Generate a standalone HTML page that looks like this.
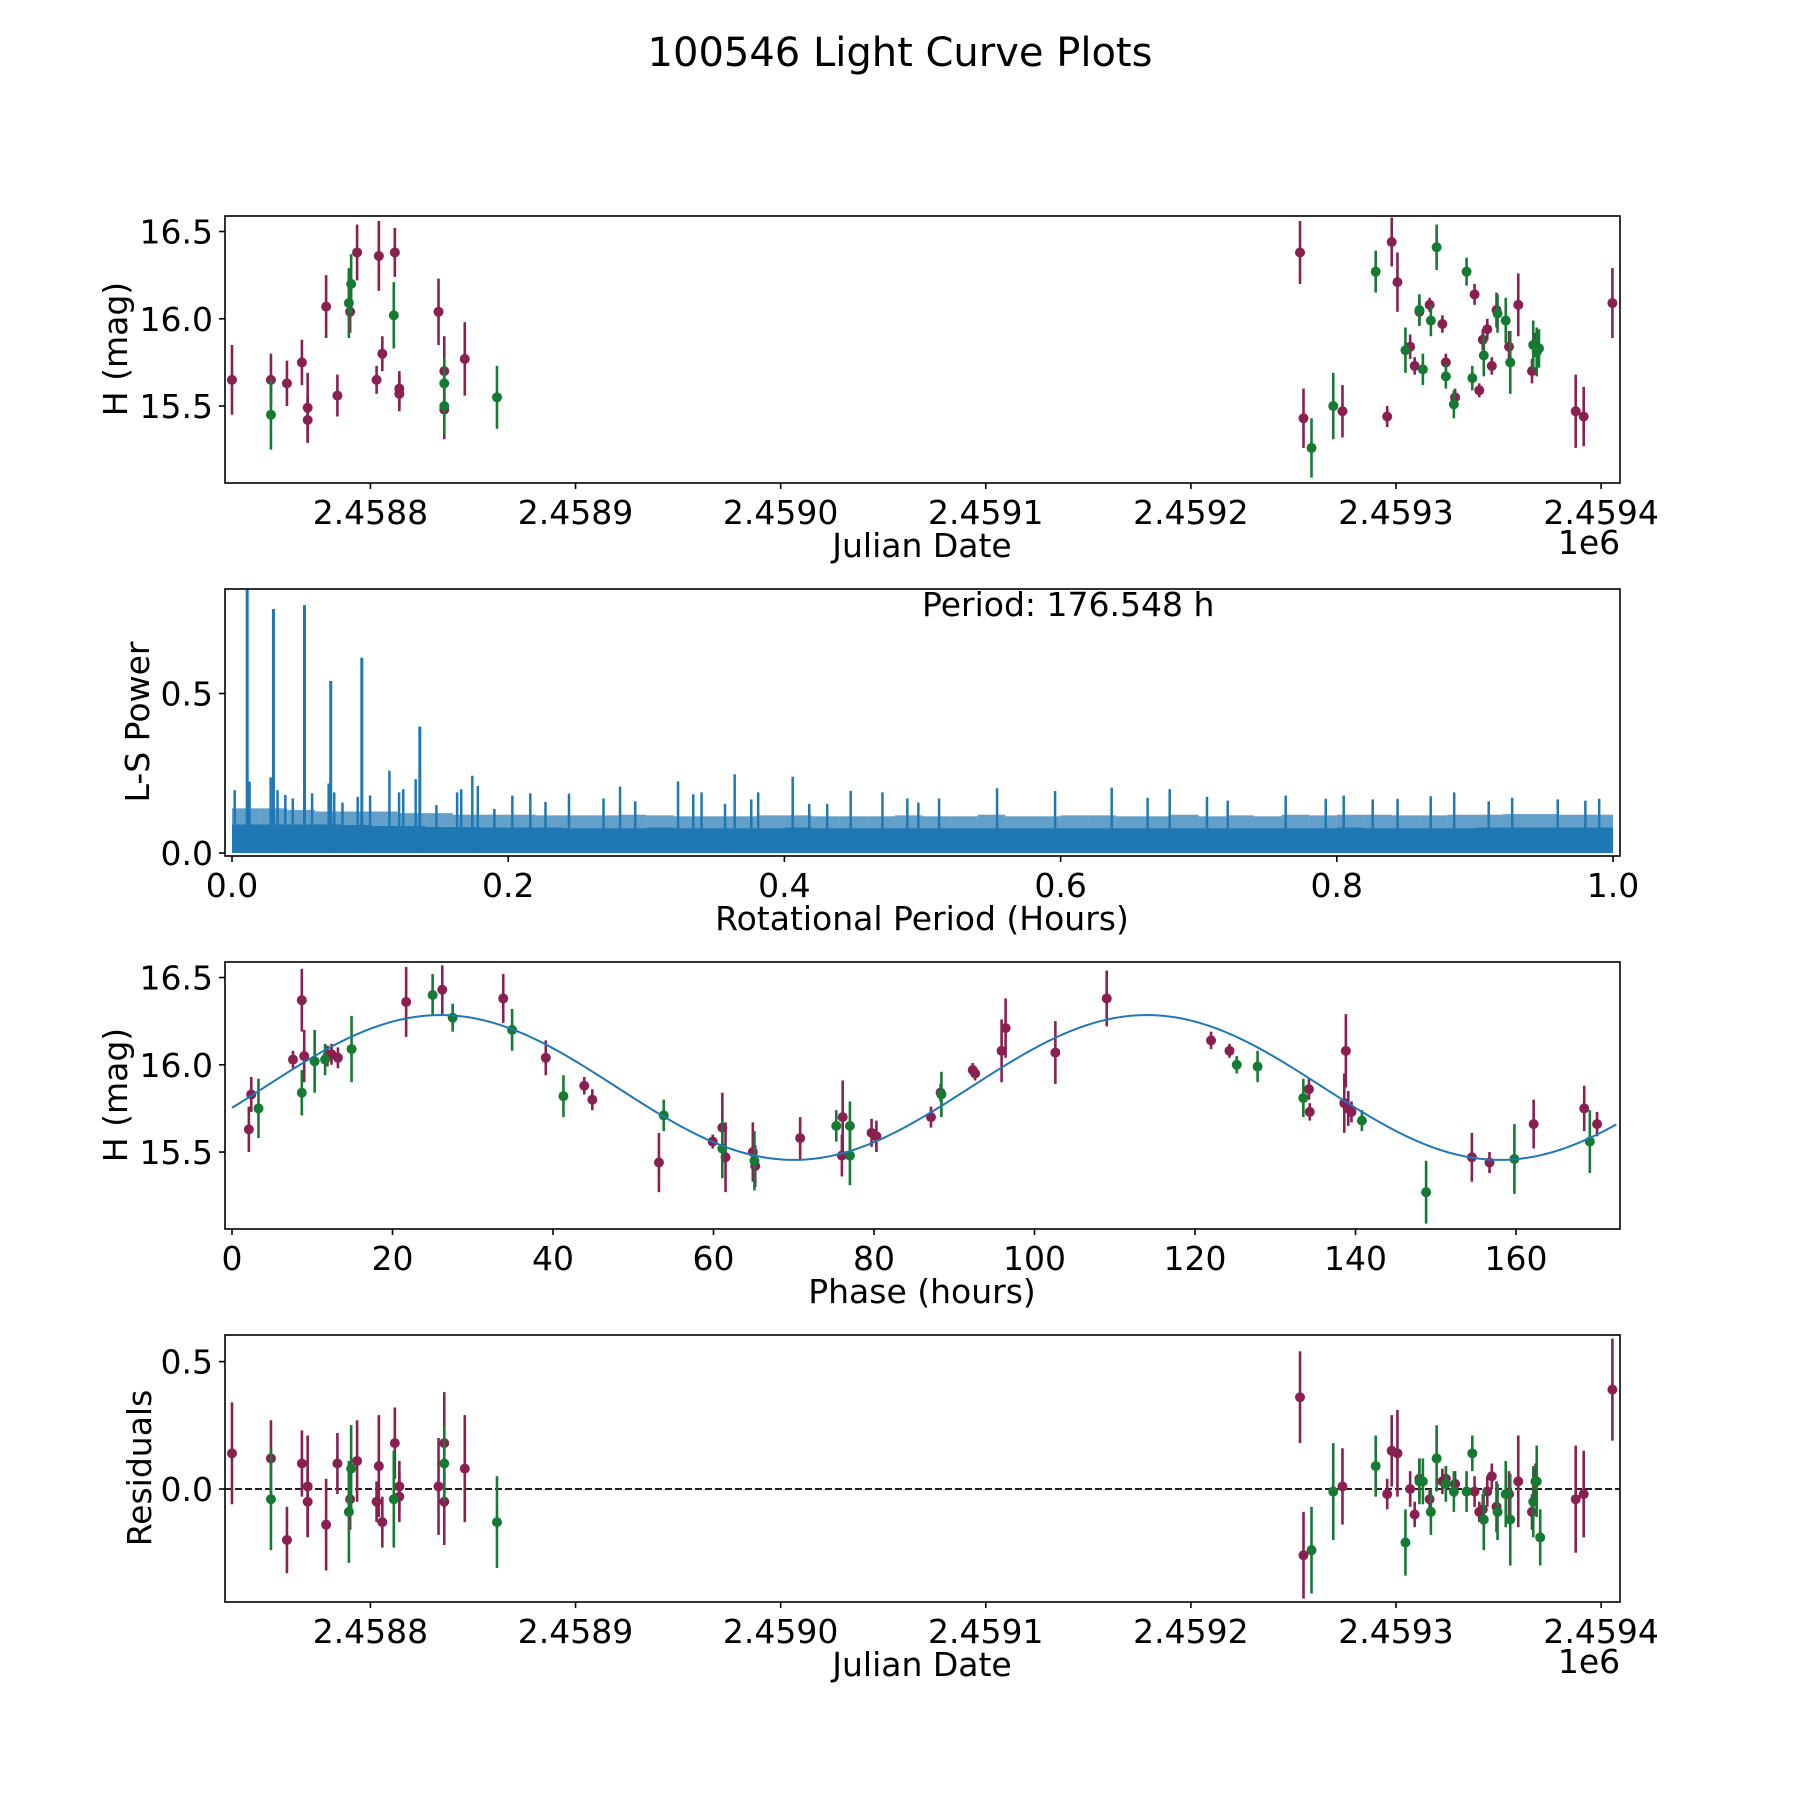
<!DOCTYPE html>
<html><head><meta charset="utf-8"><style>
body{margin:0;background:#fff}
svg{display:block}
text{font-family:"DejaVu Sans","Liberation Sans",sans-serif;fill:#000}
</style></head><body>
<svg id="fig" width="1800" height="1800" viewBox="0 0 1800 1800" xmlns="http://www.w3.org/2000/svg">
<rect width="1800" height="1800" fill="#fff"/>
<text x="900" y="66" font-size="40" text-anchor="middle">100546 Light Curve Plots</text>
</svg>
<script>
// ---- Panel 1 data: [day offset from JD 2458800, mag, err]
const lcPurple = [[-67.5,15.65,0.2],[-48.5,15.65,0.15],[-40.7,15.63,0.13],[-33.4,15.75,0.13],[-30.6,15.49,0.2],[-30.6,15.42,0.13],[-21.6,16.07,0.18],[-16.1,15.56,0.12],[-9.9,16.04,0.12],[-6.5,16.38,0.16],[3.0,15.65,0.08],[4.1,16.36,0.2],[5.8,15.8,0.1],[11.9,16.38,0.14],[14.1,15.6,0.1],[14.1,15.57,0.1],[33.2,16.04,0.19],[36.0,15.7,0.2],[36.0,15.48,0.17],[46.0,15.77,0.21],
[453.2,16.38,0.18],[454.9,15.43,0.17],[473.9,15.47,0.15],[495.7,15.44,0.06],[497.9,16.44,0.14],[500.7,16.21,0.17],[506.9,15.84,0.07],[509.1,15.73,0.05],[511.4,16.04,0.08],[516.4,16.08,0.04],[522.6,15.97,0.05],[524.3,15.75,0.05],[528.8,15.55,0.05],[538.3,16.14,0.06],[540.6,15.59,0.04],[542.3,15.88,0.06],[544.5,15.94,0.06],[546.7,15.73,0.05],[549.0,16.05,0.1],[555.1,15.84,0.09],[559.6,16.08,0.18],[566.3,15.7,0.07],[568.0,15.85,0.07],[587.6,15.47,0.21],[591.5,15.44,0.17],[605.5,16.09,0.2]];
const lcGreen = [[-48.5,15.45,0.2],[-10.5,16.09,0.2],[-9.4,16.2,0.17],[11.4,16.02,0.19],[36.0,15.63,0.15],[36.0,15.5,0.17],[61.7,15.55,0.18],[458.8,15.26,0.17],[469.4,15.5,0.19],[490.1,16.27,0.12],[504.6,15.82,0.13],[511.4,16.05,0.09],[513.1,15.71,0.09],[517.0,15.99,0.09],[519.8,16.41,0.13],[524.3,15.67,0.07],[528.2,15.51,0.08],[534.4,16.27,0.08],[537.2,15.66,0.07],[542.8,15.79,0.12],[549.5,16.03,0.11],[553.5,15.99,0.13],[555.7,15.75,0.18],[566.9,15.85,0.14],[568.6,15.81,0.14],[569.7,15.83,0.11]];
const jdTicks = [0,100,200,300,400,500,600];
const jdTickLabels = ["2.4588","2.4589","2.4590","2.4591","2.4592","2.4593","2.4594"];
const magTicks = [15.5,16.0,16.5];
const magTickLabels = ["15.5","16.0","16.5"];
// ---- Panel 2 (Lomb-Scargle)
const lsPeakPeriods = [0.011,0.030,0.0525,0.0715,0.094,0.136];
const lsPeakPowers = [0.9,0.765,0.777,0.539,0.612,0.396];
const lsSpikePeriods = [0.002,0.0127,0.028,0.033,0.0386,0.044,0.058,0.070,0.074,0.080,0.091,0.100,0.114,0.121,0.124,0.133,0.148,0.163,0.166,0.174,0.178,0.190,0.203,0.216,0.227,0.244,0.269,0.281,0.292,0.323,0.334,0.340,0.357,0.364,0.376,0.381,0.406,0.418,0.431,0.448,0.471,0.489,0.497,0.512,0.554,0.596,0.637,0.663,0.679,0.706,0.721,0.763,0.792,0.805,0.826,0.844,0.868,0.885,0.910,0.927,0.960,0.980,0.990];
const lsSpikePowers = [0.197,0.224,0.237,0.197,0.182,0.171,0.187,0.218,0.19,0.158,0.176,0.18,0.258,0.19,0.2,0.231,0.15,0.19,0.2,0.242,0.21,0.138,0.18,0.187,0.16,0.186,0.171,0.208,0.162,0.224,0.184,0.19,0.154,0.247,0.168,0.19,0.239,0.154,0.154,0.195,0.19,0.171,0.158,0.171,0.203,0.194,0.205,0.173,0.2,0.176,0.164,0.18,0.17,0.18,0.168,0.17,0.178,0.19,0.162,0.173,0.168,0.164,0.17];
const lsBinWidth = 0.02;
const lsDense = [0.09,0.09,0.09,0.09,0.088,0.085,0.085,0.082,0.082,0.08,0.08,0.08,0.078,0.078,0.078,0.08,0.078,0.078,0.078,0.078,0.08,0.078,0.078,0.078,0.078,0.078,0.078,0.078,0.078,0.078,0.078,0.078,0.078,0.078,0.078,0.078,0.078,0.078,0.078,0.078,0.08,0.078,0.078,0.078,0.078,0.08,0.08,0.08,0.08,0.08];
const lsMid = [0.14,0.14,0.135,0.13,0.13,0.13,0.125,0.125,0.12,0.12,0.12,0.118,0.118,0.118,0.12,0.118,0.115,0.115,0.115,0.118,0.118,0.115,0.115,0.115,0.118,0.115,0.115,0.12,0.115,0.115,0.118,0.118,0.115,0.115,0.12,0.115,0.118,0.115,0.12,0.118,0.12,0.12,0.118,0.118,0.12,0.12,0.122,0.122,0.12,0.12];
const lsXTicks = [0,0.2,0.4,0.6,0.8,1.0];
const lsXTickLabels = ["0.0","0.2","0.4","0.6","0.8","1.0"];
const lsYTicks = [0,0.5];
const lsYTickLabels = ["0.0","0.5"];
// ---- Panel 3 (phased): [hours, mag, err]
const phPurple = [[2.1,15.63,0.13],[2.4,15.83,0.1],[7.6,16.03,0.05],[8.7,16.37,0.18],[9.0,16.05,0.15],[11.9,16.05,0.06],[12.4,16.06,0.06],[13.2,16.04,0.06],[21.7,16.36,0.2],[26.2,16.43,0.14],[33.8,16.38,0.14],[39.1,16.04,0.1],[43.9,15.88,0.05],[44.9,15.8,0.06],[53.2,15.44,0.17],[59.9,15.56,0.04],[61.1,15.64,0.2],[61.5,15.47,0.2],[64.9,15.5,0.17],[65.2,15.42,0.12],[70.8,15.58,0.12],[76.0,15.48,0.12],[76.1,15.7,0.21],[79.7,15.61,0.08],[80.3,15.59,0.09],[87.1,15.7,0.06],[88.3,15.84,0.05],[92.3,15.97,0.04],[92.6,15.95,0.04],[95.9,16.08,0.18],[96.4,16.21,0.17],[102.6,16.07,0.18],[109.0,16.38,0.16],[122.0,16.14,0.05],[124.3,16.08,0.04],[134.2,15.86,0.06],[134.3,15.73,0.05],[138.6,15.78,0.17],[138.8,16.08,0.21],[139.1,15.75,0.1],[139.5,15.73,0.06],[154.5,15.47,0.14],[156.7,15.44,0.06],[162.2,15.66,0.14],[168.5,15.75,0.13],[170.1,15.66,0.07]];
const phGreen = [[3.3,15.75,0.17],[8.7,15.84,0.13],[10.3,16.02,0.18],[11.6,16.03,0.09],[14.9,16.09,0.19],[25.0,16.4,0.12],[27.5,16.27,0.08],[34.9,16.2,0.12],[41.3,15.82,0.12],[53.8,15.71,0.09],[61.1,15.52,0.17],[65.1,15.45,0.17],[75.3,15.65,0.09],[77.0,15.65,0.14],[77.0,15.48,0.17],[88.4,15.83,0.13],[125.2,16.0,0.05],[127.8,15.99,0.09],[133.5,15.81,0.11],[140.8,15.68,0.06],[148.8,15.27,0.18],[159.8,15.46,0.2],[169.2,15.56,0.18]];
const modelMean = 15.87, modelAmp = 0.415, modelPeriod = 88, modelShift = 4;
const modelEnd = 172.6;
const phXTicks = [0,20,40,60,80,100,120,140,160];
const phXTickLabels = ["0","20","40","60","80","100","120","140","160"];
// ---- Panel 4 (residuals): [day, residual, err]
const resPurple = [[-67.5,0.14,0.2],[-48.5,0.12,0.15],[-40.7,-0.2,0.13],[-33.4,0.1,0.13],[-30.6,0.01,0.2],[-30.6,-0.05,0.13],[-21.6,-0.14,0.18],[-16.1,0.1,0.12],[-9.9,-0.04,0.12],[-6.5,0.11,0.16],[3.0,-0.05,0.08],[4.1,0.09,0.2],[5.8,-0.13,0.1],[11.9,0.18,0.14],[14.1,0.01,0.1],[14.1,-0.03,0.1],[33.2,0.01,0.19],[36.0,0.18,0.2],[36.0,-0.05,0.17],[46.0,0.08,0.21],
[453.2,0.36,0.18],[454.9,-0.26,0.17],[473.9,0.01,0.15],[495.7,-0.02,0.06],[497.9,0.15,0.14],[500.7,0.14,0.17],[506.9,0.0,0.07],[509.1,-0.1,0.05],[511.4,0.04,0.08],[516.4,-0.04,0.04],[522.6,0.03,0.05],[524.3,0.04,0.05],[528.8,0.02,0.05],[538.3,-0.01,0.06],[540.6,-0.09,0.04],[542.3,-0.08,0.06],[544.5,-0.01,0.06],[546.7,0.05,0.05],[549.0,-0.07,0.1],[555.1,-0.02,0.09],[559.6,0.03,0.18],[566.3,-0.09,0.07],[568.0,0.03,0.07],[587.6,-0.04,0.21],[591.5,-0.02,0.17],[605.5,0.39,0.2]];
const resGreen = [[-48.5,-0.04,0.2],[-10.5,-0.09,0.2],[-9.4,0.08,0.17],[11.4,-0.04,0.19],[36.0,0.1,0.15],[61.7,-0.13,0.18],[458.8,-0.24,0.17],[469.4,-0.01,0.19],[490.1,0.09,0.12],[504.6,-0.21,0.13],[511.4,0.03,0.09],[513.1,0.03,0.09],[517.0,-0.09,0.09],[519.8,0.12,0.13],[524.3,0.02,0.07],[528.2,-0.01,0.08],[534.4,-0.01,0.08],[537.2,0.14,0.07],[542.8,-0.12,0.12],[549.5,-0.09,0.11],[553.5,-0.02,0.13],[555.7,-0.12,0.18],[566.9,-0.05,0.14],[568.6,0.03,0.14],[570.3,-0.19,0.11]];
const resTicks = [0,0.5];
const resTickLabels = ["0.0","0.5"];

const NS = "http://www.w3.org/2000/svg";
const svg = document.getElementById('fig');
const PURPLE = "#8a1f52", GREEN = "#157a32", BLUE = "#1f77b4";
const L = 225, R = 1620, PH = 267, FS = 33;
const tops = [216, 589, 962, 1335];

function mk(tag, attrs, parent){
  const e = document.createElementNS(NS, tag);
  for (const k in attrs) e.setAttribute(k, attrs[k]);
  (parent || svg).appendChild(e);
  return e;
}
function lin(d0, d1, p0, p1){ return v => p0 + (v - d0) * (p1 - p0) / (d1 - d0); }

function axesFrame(i, name){
  const g = mk('g', {});
  
  
  const cp = mk('clipPath', {id: 'clip' + i}, g);
  mk('rect', {x: L, y: tops[i], width: R - L, height: PH}, cp);
  const plot = mk('g', {'clip-path': 'url(#clip' + i + ')'}, g);
  
  
  return {g, plot};
}
function border(g, i){
  const b = mk('rect', {x: L, y: tops[i], width: R - L, height: PH, fill: 'none', stroke: '#000', 'stroke-width': 1.6}, g);
  
  
}
function xTicks(g, i, vals, labels, sx){
  const yb = tops[i] + PH;
  vals.forEach((v, k) => {
    const x = sx(v);
    const t = mk('line', {x1: x, x2: x, y1: yb, y2: yb + 6, stroke: '#000', 'stroke-width': 1.6}, g);
    
    
    const tx = mk('text', {x: x, y: yb + 41, 'font-size': FS, 'text-anchor': 'middle'}, g);
    tx.textContent = labels[k];
    
    
  });
}
function yTicks(g, vals, labels, sy){
  vals.forEach((v, k) => {
    const y = sy(v);
    const t = mk('line', {x1: L - 6, x2: L, y1: y, y2: y, stroke: '#000', 'stroke-width': 1.6}, g);
    
    
    const tx = mk('text', {x: L - 12, y: y + 12, 'font-size': FS, 'text-anchor': 'end'}, g);
    tx.textContent = labels[k];
    
    
  });
}
function label(g, txt, x, y, rot, name){
  const t = mk('text', {x: x, y: y, 'font-size': FS, 'text-anchor': 'middle'}, g);
  if (rot) t.setAttribute('transform', 'rotate(-90 ' + x + ' ' + y + ')');
  t.textContent = txt;
  
  
}
function errPoints(plot, data, color, sx, sy, name){
  data.forEach(d => {
    const x = sx(d[0]);
    const l = mk('line', {x1: x, x2: x, y1: sy(d[1] - d[2]), y2: sy(d[1] + d[2]), stroke: color, 'stroke-width': 2.6}, plot);
    
    
    const c = mk('circle', {cx: x, cy: sy(d[1]), r: 5, fill: color}, plot);
    
    
  });
}

// Panel 1
(function(){
  const i = 0, {g, plot} = axesFrame(i, 'lightcurve-panel');
  const sx = lin(-70.9, 609.2, L, R);
  const sy = lin(15.059, 16.589, tops[i] + PH, tops[i]);
  errPoints(plot, lcPurple, PURPLE, sx, sy, 'lightcurve-purple');
  errPoints(plot, lcGreen, GREEN, sx, sy, 'lightcurve-green');
  border(g, i);
  xTicks(g, i, jdTicks, jdTickLabels, sx);
  yTicks(g, magTicks, magTickLabels, sy);
  label(g, 'Julian Date', 922, 557, false, 'x-axis-title');
  label(g, '1e6', 1589, 554, false, 'x-offset-label');
  label(g, 'H (mag)', 127, 349, true, 'y-axis-title');
})();

// Panel 2
(function(){
  const i = 1, {g, plot} = axesFrame(i, 'periodogram-panel');
  const sx = lin(0, 1, 232, 1613);
  const sy = lin(0, 0.5, 853, 693.5);
  let pts = [];
  lsDense.forEach((v, k) => {
    pts.push(sx(k * lsBinWidth) + ',' + sy(v));
    pts.push(sx((k + 1) * lsBinWidth) + ',' + sy(v));
  });
  pts.push(sx(1) + ',' + sy(0)); pts.push(sx(0) + ',' + sy(0));
  const band = mk('polygon', {points: pts.join(' '), fill: BLUE}, plot);
  
  
  lsMid.forEach((v, k) => {
    const r = mk('rect', {x: sx(k * lsBinWidth), y: sy(v), width: sx(lsBinWidth) - sx(0), height: sy(lsDense[k]) - sy(v), fill: BLUE, opacity: 0.7}, plot);
    
    
  });
  lsSpikePeriods.forEach((p, k) => {
    const l = mk('line', {x1: sx(p), x2: sx(p), y1: sy(0), y2: sy(lsSpikePowers[k]), stroke: BLUE, 'stroke-width': 2.5}, plot);
    
    
  });
  lsPeakPeriods.forEach((p, k) => {
    const l = mk('line', {x1: sx(p), x2: sx(p), y1: sy(0), y2: sy(lsPeakPowers[k]), stroke: BLUE, 'stroke-width': 3}, plot);
    
    
  });
  border(g, i);
  xTicks(g, i, lsXTicks, lsXTickLabels, sx);
  yTicks(g, lsYTicks, lsYTickLabels, sy);
  label(g, 'Rotational Period (Hours)', 922, 930, false, 'x-axis-title');
  label(g, 'L-S Power', 149, 722, true, 'y-axis-title');
  const t = mk('text', {x: 922, y: 616, 'font-size': FS}, g);
  t.textContent = 'Period: 176.548 h';
  
  
})();

// Panel 3
(function(){
  const i = 2, {g, plot} = axesFrame(i, 'phased-panel');
  const sx = lin(0, 160, 232, 1516);
  const sy = lin(15.059, 16.589, tops[i] + PH, tops[i]);
  let pts = [];
  for (let h = 0; h <= modelEnd; h += 0.5){
    pts.push(sx(h) + ',' + sy(modelMean + modelAmp * Math.sin(2 * Math.PI * (h - modelShift) / modelPeriod)));
  }
  errPoints(plot, phPurple, PURPLE, sx, sy, 'phased-purple');
  errPoints(plot, phGreen, GREEN, sx, sy, 'phased-green');
  const m = mk('polyline', {points: pts.join(' '), fill: 'none', stroke: BLUE, 'stroke-width': 2}, plot);
  
  
  border(g, i);
  xTicks(g, i, phXTicks, phXTickLabels, sx);
  yTicks(g, magTicks, magTickLabels, sy);
  label(g, 'Phase (hours)', 922, 1303, false, 'x-axis-title');
  label(g, 'H (mag)', 127, 1095, true, 'y-axis-title');
})();

// Panel 4
(function(){
  const i = 3, {g, plot} = axesFrame(i, 'residuals-panel');
  const sx = lin(-70.9, 609.2, L, R);
  const sy = lin(0, 0.5, 1489, 1361.6);
  const z = mk('line', {x1: L, x2: R, y1: sy(0), y2: sy(0), stroke: '#000', 'stroke-width': 1.8, 'stroke-dasharray': '7,3'}, plot);
  
  
  errPoints(plot, resPurple, PURPLE, sx, sy, 'residual-purple');
  errPoints(plot, resGreen, GREEN, sx, sy, 'residual-green');
  border(g, i);
  xTicks(g, i, jdTicks, jdTickLabels, sx);
  yTicks(g, resTicks, resTickLabels, sy);
  label(g, 'Julian Date', 922, 1676, false, 'x-axis-title');
  label(g, '1e6', 1589, 1673, false, 'x-offset-label');
  label(g, 'Residuals', 151, 1468, true, 'y-axis-title');
})();
</script>
</body></html>
